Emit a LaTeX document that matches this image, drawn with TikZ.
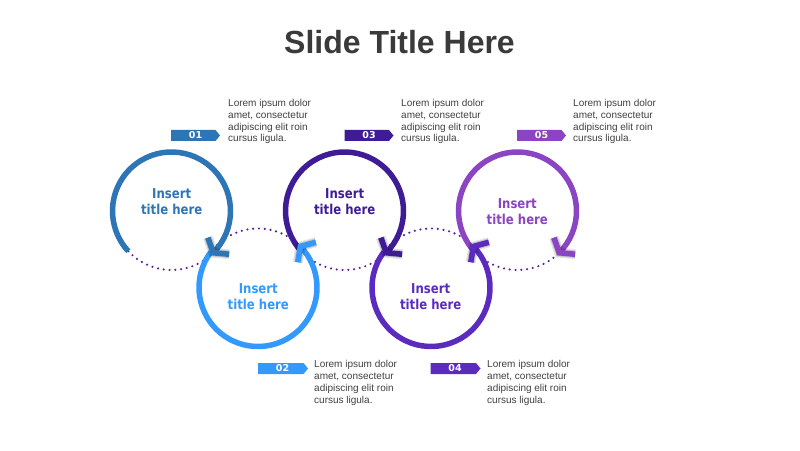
\documentclass[tikz,border=0pt]{standalone}
\usepackage{fontspec}
\setmainfont{Liberation Sans}
\newfontfamily\tagfont{DejaVu Sans}
\newfontfamily\ctfont[FakeStretch=0.86]{DejaVu Sans}
\usetikzlibrary{calc}
\definecolor{cA}{HTML}{2E75B6}
\definecolor{cB}{HTML}{3399FF}
\definecolor{cC}{HTML}{3F1C96}
\definecolor{cD}{HTML}{5B2BC0}
\definecolor{cE}{HTML}{8B44C2}
\definecolor{dotc}{HTML}{5C1F9C}
\definecolor{bodyc}{HTML}{404040}
\definecolor{titlec}{HTML}{3A3A3A}
\newcommand\mychev[3]{%
  \begin{scope}[shift={(#2)},rotate=#3]
    \draw[black,opacity=0.10,line width=10] (-8.6,13.5) -- (0,0) -- (-8.6,-13.5);
    \draw[black,opacity=0.14,line width=7.5] (-8.6,13.5) -- (0,0) -- (-8.6,-13.5);
    \draw[#1,line width=5.6] (-8.6,13.5) -- (0,0) -- (-8.6,-13.5);
  \end{scope}}
\tikzset{
  ring/.style={line width=5.5},
  dotline/.style={dotc,line width=2.4,line cap=round,dash pattern=on 0pt off 5.8pt},
  ctitle/.style={font=\ctfont\fontsize{13.6}{16}\selectfont\bfseries,align=center,inner sep=0},
  body/.style={font=\fontsize{10}{11.8}\selectfont,text=bodyc,align=left,anchor=north west,inner sep=0},
  tagtxt/.style={font=\tagfont\fontsize{9.5}{10}\selectfont\bfseries,text=white,inner sep=0},
}
\begin{document}
\begin{tikzpicture}[x=1pt,y=1pt]
\useasboundingbox (0,0) rectangle (800,450);
\fill[white] (0,0) rectangle (800,450);
\node[font=\fontsize{32}{36}\selectfont\bfseries,text=titlec,inner sep=0] (title) at (399.5,407.5) {Slide Title Here};
% centers
\coordinate (c1) at (171.5,239);
\coordinate (c2) at (258,162.5);
\coordinate (c3) at (344.5,239);
\coordinate (c4) at (431,162.5);
\coordinate (c5) at (517.5,239);
% dotted parts
\draw[dotline] ($(c1)+(223:59)$) arc[start angle=223,end angle=315,radius=59];
\draw[dotline] ($(c2)+(44:59)$) arc[start angle=44,end angle=143,radius=59];
\draw[dotline] ($(c3)+(223:59)$) arc[start angle=223,end angle=315,radius=59];
\draw[dotline] ($(c4)+(44:59)$) arc[start angle=44,end angle=143,radius=59];
\draw[dotline] ($(c5)+(223:59)$) arc[start angle=223,end angle=315,radius=59];
% rings
\draw[ring,cA] ($(c1)+(223:59)$) arc[start angle=223,end angle=-45,radius=59];
\draw[ring,cB] ($(c2)+(143:59)$) arc[start angle=143,end angle=404,radius=59];
\draw[ring,cC] ($(c3)+(223:59)$) arc[start angle=223,end angle=-45,radius=59];
\draw[ring,cD] ($(c4)+(143:59)$) arc[start angle=143,end angle=404,radius=59];
\draw[ring,cE] ($(c5)+(223:59)$) arc[start angle=223,end angle=-45,radius=59];
% arrow heads
\mychev{cA}{$(c1)+(-45:59)$}{-128}
\mychev{cB}{$(c2)+(44:59)$}{138}
\mychev{cC}{$(c3)+(-45:59)$}{-128}
\mychev{cD}{$(c4)+(44:59)$}{138}
\mychev{cE}{$(c5)+(-45:59)$}{-128}
% circle titles
\node[ctitle,text=cA] (t1) at (171.7,248.3) {Insert\\title here};
\node[ctitle,text=cB] (t2) at (258.3,153) {Insert\\title here};
\node[ctitle,text=cC] (t3) at (344.7,248.3) {Insert\\title here};
\node[ctitle,text=cD] (t4) at (430.7,153) {Insert\\title here};
\node[ctitle,text=cE] (t5) at (517.3,238.3) {Insert\\title here};
% tags
\fill[cA] (171,320) -- (215.5,320) -- (220,314.5) -- (215.5,309) -- (171,309) -- cycle;
\node[tagtxt] (g1) at (195.5,314.5) {01};
\fill[cB] (258,87) -- (303.5,87) -- (308,81.5) -- (303.5,76) -- (258,76) -- cycle;
\node[tagtxt] (g2) at (282.5,81.5) {02};
\fill[cC] (344.5,320) -- (389,320) -- (393.5,314.5) -- (389,309) -- (344.5,309) -- cycle;
\node[tagtxt] (g3) at (369,314.5) {03};
\fill[cD] (430.5,87) -- (476,87) -- (480.5,81.5) -- (476,76) -- (430.5,76) -- cycle;
\node[tagtxt] (g4) at (455,81.5) {04};
\fill[cE] (517,320) -- (561.5,320) -- (566,314.5) -- (561.5,309) -- (517,309) -- cycle;
\node[tagtxt] (g5) at (541.5,314.5) {05};
% body texts
\node[body] (b1) at (228,351) {Lorem ipsum dolor\\amet, consectetur\\adipiscing elit roin\\cursus ligula.};
\node[body] (b3) at (401,351) {Lorem ipsum dolor\\amet, consectetur\\adipiscing elit roin\\cursus ligula.};
\node[body] (b5) at (573,351) {Lorem ipsum dolor\\amet, consectetur\\adipiscing elit roin\\cursus ligula.};
\node[body] (b2) at (314,89.5) {Lorem ipsum dolor\\amet, consectetur\\adipiscing elit roin\\cursus ligula.};
\node[body] (b4) at (487,89.5) {Lorem ipsum dolor\\amet, consectetur\\adipiscing elit roin\\cursus ligula.};
\end{tikzpicture}
\end{document}
